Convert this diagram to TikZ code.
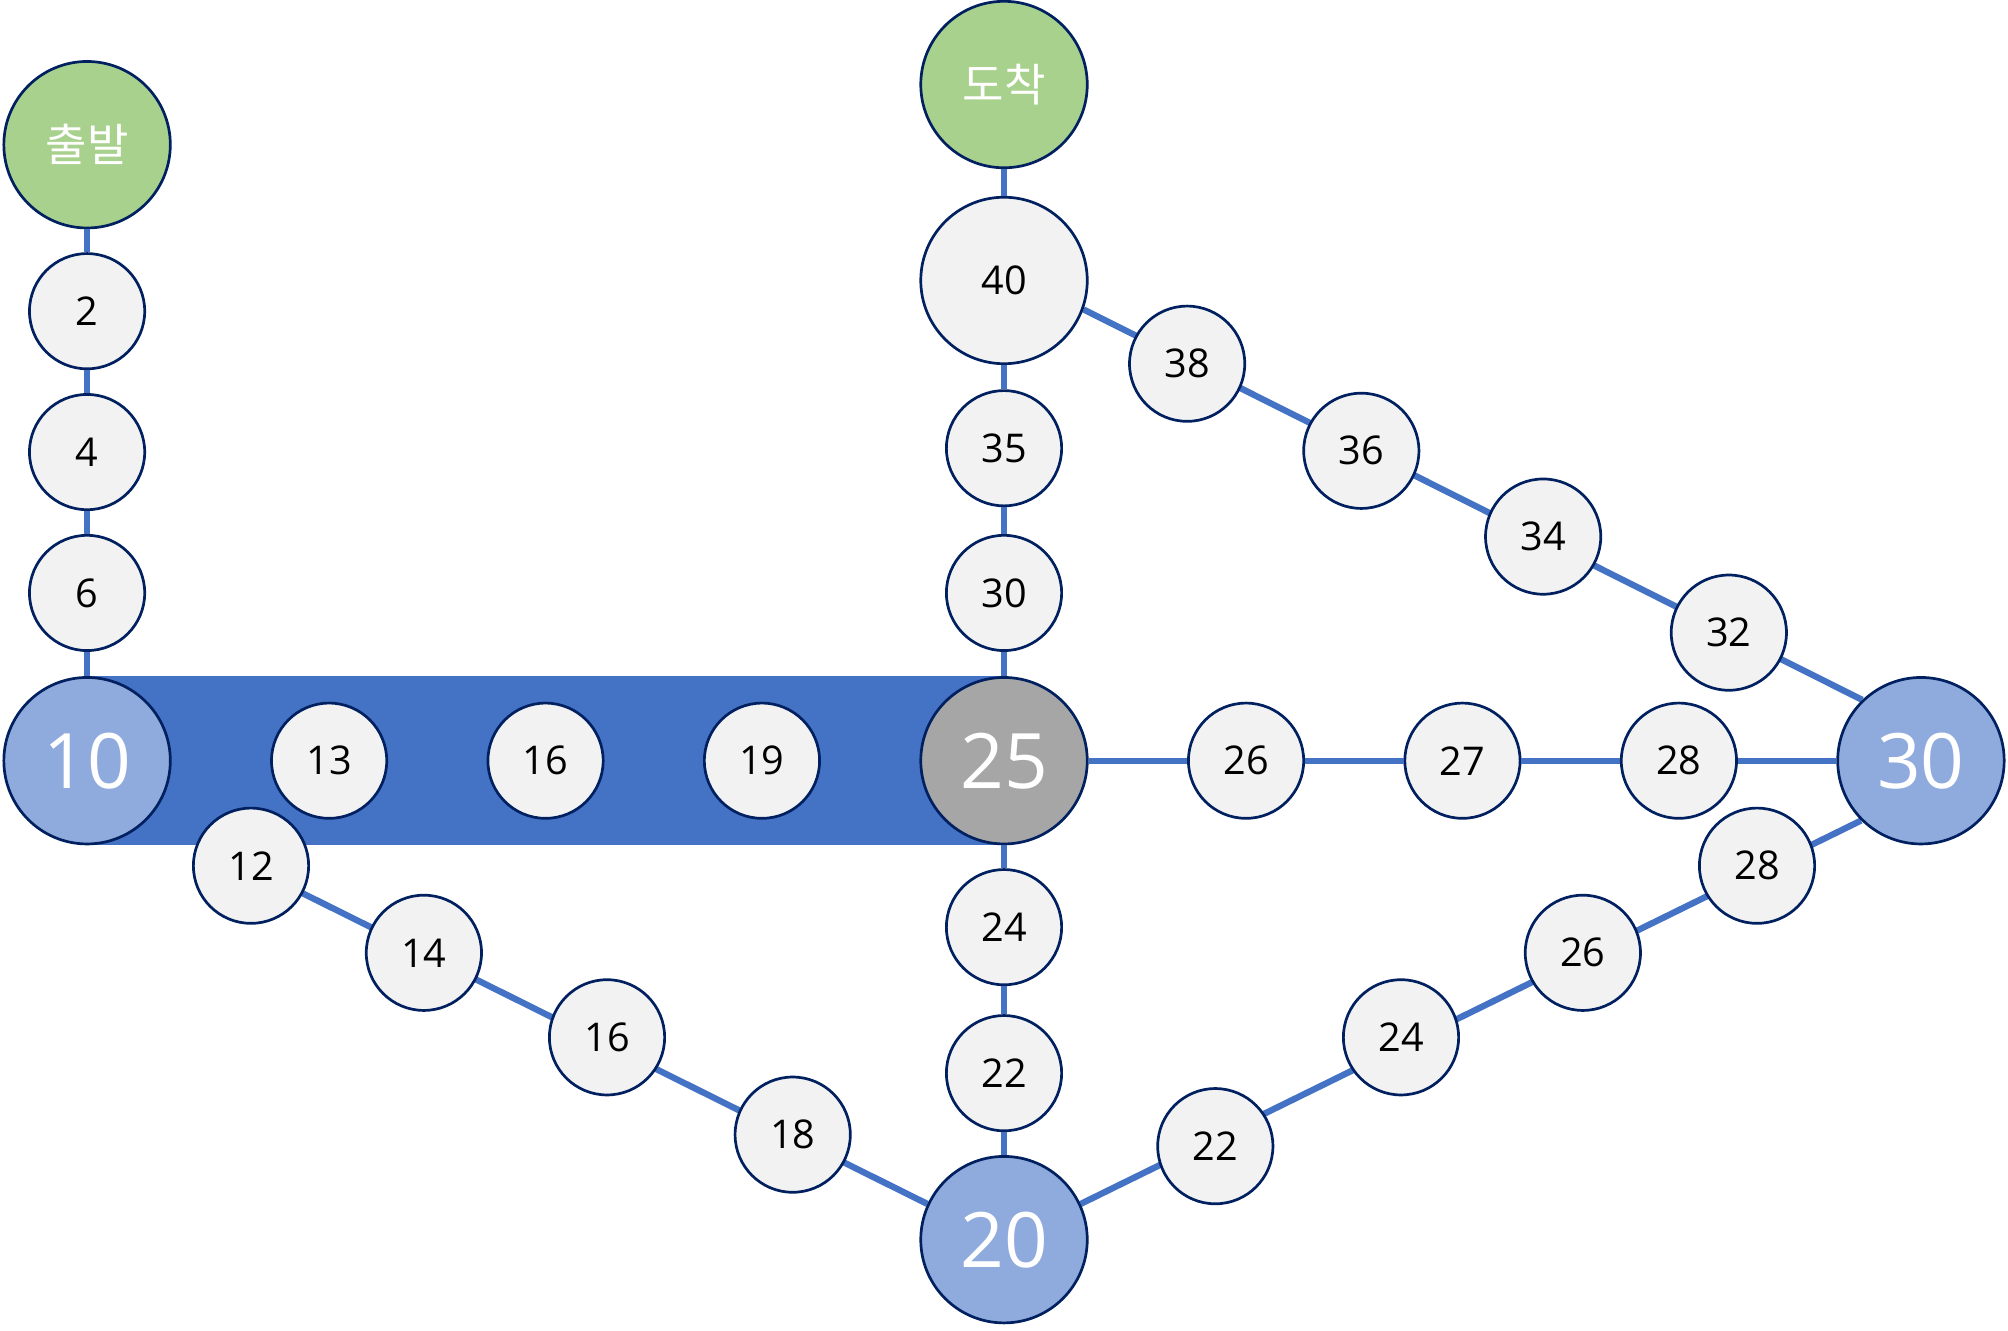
\documentclass[tikz,border=0pt]{standalone}
\usepackage{fontspec}
\setmainfont{Open Sans}
\newfontfamily\kr{Noto Sans CJK KR}
\usetikzlibrary{backgrounds}
\definecolor{edgeblue}{HTML}{4472C4}
\definecolor{rimblue}{HTML}{002060}
\definecolor{stgray}{HTML}{F2F2F2}
\definecolor{hubblue}{HTML}{8FAADC}
\definecolor{hubgray}{HTML}{A6A6A6}
\definecolor{termgreen}{HTML}{A9D18E}
\tikzset{
    stop/.style={circle, draw=rimblue, line width=0.6pt, fill=stgray, minimum size=0.9cm, inner sep=0pt, font=\fontsize{8.8}{10}\selectfont},
    hub/.style={circle, draw=rimblue, line width=0.6pt, fill=hubblue, minimum size=1.3cm, inner sep=0pt, text=white, font=\fontsize{17}{20}\selectfont},
    term/.style={hub, fill=termgreen, font=\fontsize{10}{12}\selectfont\kr},
    link/.style={draw=edgeblue, line width=1.4pt}
}
\begin{document}
\begin{tikzpicture}
        \useasboundingbox (0,0) rectangle (15.68,-10.386);

        % terminals and hubs
        \node[term] (start) at (0.68,-1.13) {출발};
        \node[term] (goal) at (7.84,-0.66) {도착};
        \node[hub] (h10) at (0.68,-5.94) {10};
        \node[hub, fill=hubgray] (h25) at (7.84,-5.94) {25};
        \node[hub] (h20) at (7.84,-9.68) {20};
        \node[hub] (h30) at (15.00,-5.94) {30};
        \node[hub, fill=stgray, text=black, font=\fontsize{8.8}{10}\selectfont] (s40) at (7.84,-2.19) {40};

        % stops
        \node[stop] (a2) at (0.68,-2.43) {2};
        \node[stop] (a4) at (0.68,-3.53) {4};
        \node[stop] (a6) at (0.68,-4.63) {6};
        \node[stop] (b13) at (2.57,-5.94) {13};
        \node[stop] (b16) at (4.26,-5.94) {16};
        \node[stop] (b19) at (5.95,-5.94) {19};
        \node[stop] (c12) at (1.96,-6.76) {12};
        \node[stop] (c14) at (3.31,-7.44) {14};
        \node[stop] (c16) at (4.74,-8.10) {16};
        \node[stop] (c18) at (6.19,-8.86) {18};
        \node[stop] (d24) at (7.84,-7.24) {24};
        \node[stop] (d22) at (7.84,-8.38) {22};
        \node[stop] (e30) at (7.84,-4.63) {30};
        \node[stop] (e35) at (7.84,-3.50) {35};
        \node[stop] (f26) at (9.73,-5.94) {26};
        \node[stop] (f27) at (11.42,-5.94) {27};
        \node[stop] (f28) at (13.11,-5.94) {28};
        \node[stop] (g22) at (9.49,-8.95) {22};
        \node[stop] (g24) at (10.94,-8.10) {24};
        \node[stop] (g26) at (12.36,-7.44) {26};
        \node[stop] (g28) at (13.72,-6.76) {28};
        \node[stop] (k32) at (13.50,-4.94) {32};
        \node[stop] (k34) at (12.05,-4.19) {34};
        \node[stop] (k36) at (10.63,-3.52) {36};
        \node[stop] (k38) at (9.27,-2.84) {38};

        \begin{scope}[on background layer]
            % diagonal routes run straight behind their stops
            \draw[link] (h10.318) -- (h20.155);
            \draw[link] (h20.25) -- (h30.225);
            \draw[link] (h30.134) -- (s40.340);
            \fill[edgeblue] (h10.north) rectangle (h25.south);
        \end{scope}

        % lines
        \draw[link] (start) -- (a2) -- (a4) -- (a6) -- (h10);
        \draw[link] (h20) -- (d22) -- (d24) -- (h25);
        \draw[link] (h25) -- (e30) -- (e35) -- (s40) -- (goal);
        \draw[link] (h25) -- (f26) -- (f27) -- (f28) -- (h30);

\end{tikzpicture}
\end{document}
